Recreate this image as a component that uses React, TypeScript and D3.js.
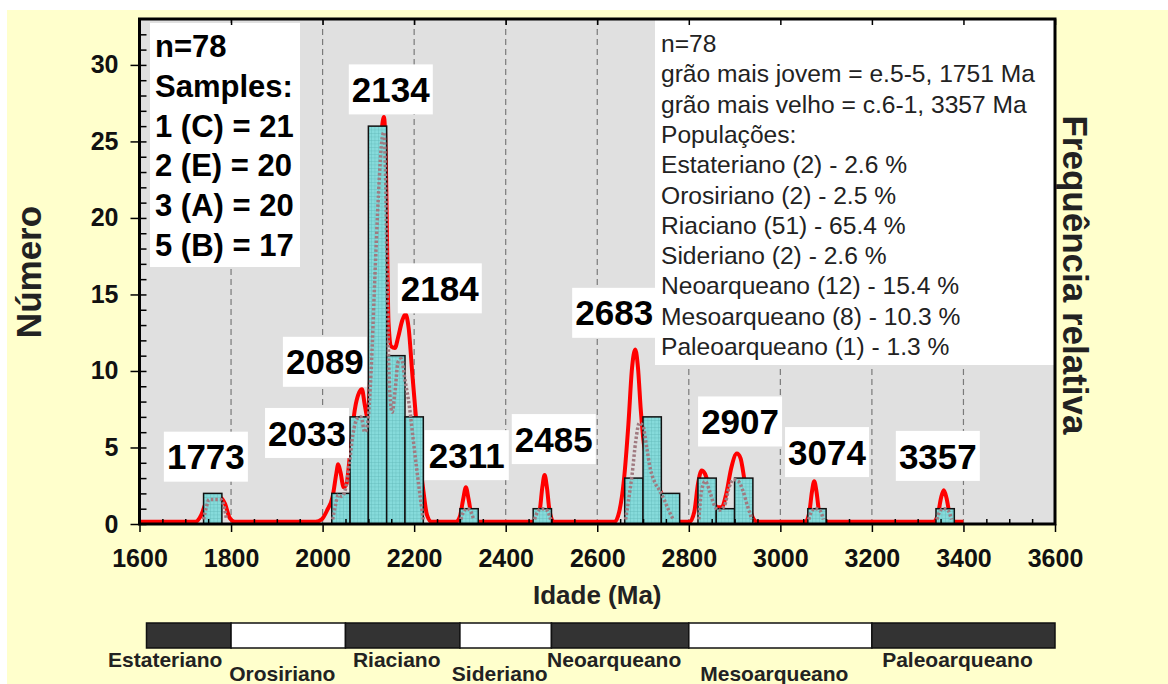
import React, { useRef, useEffect } from "react";
import * as d3 from "d3";

// histogram (bins of 40 Ma)
const binStarts = [1740, 2020, 2060, 2100, 2140, 2180, 2300, 2460, 2660, 2700, 2740, 2820, 2860, 2900, 3060, 3340];
const binCounts = [2, 2, 7, 26, 11, 7, 1, 1, 3, 7, 2, 3, 1, 3, 1, 1];
const binWidth = 40;

// relative probability curve (red)
const redAges = [
  1600, 1722, 1735, 1745, 1752, 1778, 1787, 1797, 1808,
  1985, 1998, 2010, 2022, 2030, 2034, 2039, 2046, 2052, 2060, 2070, 2080, 2086, 2092, 2098,
  2106, 2114, 2122, 2130, 2134, 2138, 2141, 2144, 2150, 2158, 2165, 2174, 2181, 2188, 2196,
  2205, 2213, 2220, 2228, 2238,
  2292, 2300, 2307, 2313, 2319, 2326, 2335,
  2465, 2474, 2480, 2485, 2490, 2496, 2505,
  2638, 2648, 2658, 2668, 2676, 2683, 2689, 2695, 2702, 2710, 2720, 2732, 2745, 2757, 2768,
  2802, 2812, 2820, 2828, 2835, 2844, 2853, 2862, 2872, 2882, 2893, 2905, 2913, 2922, 2932, 2942, 2950,
  3055, 3063, 3069, 3074, 3079, 3085, 3093,
  3335, 3344, 3351, 3357, 3363, 3370, 3378, 3400,
];
const redValues = [
  0.15, 0.15, 0.6, 1.4, 1.7, 1.7, 1.3, 0.4, 0.15,
  0.15, 0.3, 0.9, 1.8, 3.3, 3.9, 3.4, 2.4, 2.6, 4.6, 7.4, 8.6, 8.8, 7.8, 7.0,
  11, 17, 22.5, 26, 26.6, 24, 18, 13.2, 11.6, 11.5, 12.2, 13.3, 13.7, 12.8, 9.8,
  6.6, 4.0, 2.2, 0.6, 0.15,
  0.15, 0.5, 1.6, 2.4, 1.6, 0.5, 0.15,
  0.15, 0.8, 2.4, 3.2, 2.4, 0.8, 0.15,
  0.15, 0.8, 2.8, 6.5, 10.2, 11.4, 10.2, 7.5, 5.2, 4.0, 3.3, 2.6, 1.6, 0.7, 0.15,
  0.15, 0.8, 2.6, 3.5, 3.3, 2.5, 1.6, 1.1, 1.1, 2.0, 3.7, 4.6, 4.3, 2.8, 1.2, 0.3, 0.15,
  0.15, 0.7, 2.1, 2.8, 2.1, 0.7, 0.15,
  0.15, 0.6, 1.7, 2.2, 1.7, 0.6, 0.15, 0.15,
];

// dotted curve drawn over the bars (null = gap)
const dotAges = [
  1740, 1746, 1752, 1778, 1785, 1790, 1791,
  2022, 2028, 2034, 2042, 2050, 2058, 2066, 2076, 2084, 2092, 2098, 2106, 2114, 2122, 2130, 2134,
  2138, 2142, 2147, 2152, 2158, 2165, 2172, 2180, 2190, 2198, 2206, 2214, 2220, 2221,
  2302, 2310, 2316, 2322, 2330, 2331,
  2463, 2472, 2480, 2490, 2498, 2499,
  2662, 2668, 2676, 2684, 2692, 2700, 2708, 2716, 2726, 2736, 2746, 2756, 2766, 2767,
  2822, 2828, 2836, 2846, 2856, 2866, 2878, 2888, 2898, 2908, 2918, 2928, 2938, 2939,
  3062, 3070, 3078, 3086, 3094, 3095,
  3342, 3350, 3358, 3366, 3374,
];
const dotValues = [
  0.3, 1.1, 1.6, 1.6, 1.1, 0.3, null,
  0.3, 1.2, 1.9, 1.8, 2.3, 3.8, 5.8, 6.9, 7.0, 6.0, 6.5, 10, 16, 21.5, 25.2, 25.6,
  22, 14, 8.5, 7.3, 8.6, 10.6, 10.8, 9.4, 7.6, 5.5, 3.5, 1.6, 0.3, null,
  0.3, 0.9, 1.0, 0.9, 0.3, null,
  0.3, 0.9, 1.0, 0.9, 0.3, null,
  0.3, 1.5, 3.2, 5.4, 6.6, 6.4, 5.0, 3.6, 2.7, 2.2, 1.6, 0.9, 0.3, null,
  0.3, 2.2, 2.8, 2.1, 1.2, 0.9, 1.2, 2.4, 2.9, 2.8, 2.2, 1.2, 0.3, null,
  0.3, 0.9, 1.0, 0.9, 0.3, null,
  0.3, 0.9, 1.0, 0.9, 0.3,
];

// peak labels and where they sit (age, count units)
const peakLabels = ["1773", "2033", "2089", "2134", "2184", "2311", "2485", "2683", "2907", "3074", "3357"];
const peakLabelAge = [1745, 1966, 2005, 2149, 2256, 2315, 2505, 2637, 2912, 3102, 3344];
const peakLabelValue = [4.4, 5.95, 10.6, 28.4, 15.4, 4.5, 5.55, 13.8, 6.7, 4.7, 4.45];

const sampleLines = ["n=78", "Samples:", "1 (C) = 21", "2 (E) = 20", "3 (A) = 20", "5 (B) = 17"];
const summaryLines = [
  "n=78",
  "grão mais jovem = e.5-5, 1751 Ma",
  "grão mais velho = c.6-1, 3357 Ma",
  "Populações:",
  "Estateriano (2) - 2.6 %",
  "Orosiriano (2) - 2.5 %",
  "Riaciano (51) - 65.4 %",
  "Sideriano (2) - 2.6 %",
  "Neoarqueano (12) - 15.4 %",
  "Mesoarqueano (8) - 10.3 %",
  "Paleoarqueano (1) - 1.3 %",
];

// geological periods under the axis
const periodNames = ["Estateriano", "Orosiriano", "Riaciano", "Sideriano", "Neoarqueano", "Mesoarqueano", "Paleoarqueano"];
const periodBounds = [1600, 1800, 2050, 2300, 2500, 2800, 3200, 3600];

const xTicks = d3.range(1600, 3601, 200);
const yTicks = d3.range(0, 31, 5);

const FONT = "Arial, 'Liberation Sans', Helvetica, sans-serif";

const App = () => {
  const svgRef = useRef<SVGSVGElement>(null);

  useEffect(() => {
    const width = 1168;
    const height = 684;
    const left = 139.5, right = 1055, top = 19, bottom = 524;

    const svg = d3.select(svgRef.current).attr("width", width).attr("height", height);
    svg.selectAll("*").remove();

    const x = d3.scaleLinear().domain([1600, 3600]).range([left, right]);
    const y = d3.scaleLinear().domain([0, 33]).range([bottom, top]);

    const defs = svg.append("defs");
    const pat = defs
      .append("pattern")
      .attr("id", "cyanGrid")
      .attr("patternUnits", "userSpaceOnUse")
      .attr("width", 3.5)
      .attr("height", 3.5);
    pat.append("rect").attr("width", 3.5).attr("height", 3.5).attr("fill", "#86dbdb");
    pat.append("path").attr("d", "M0 0H3.5M0 0V3.5").attr("stroke", "#5eb8b8").attr("stroke-width", 0.7);

    // backgrounds
    svg.append("rect").attr("width", width).attr("height", height).attr("fill", "#ffffff");
    svg.append("rect").attr("x", 7).attr("y", 10).attr("width", width - 7).attr("height", height - 10).attr("fill", "#ffffcc");
    svg.append("rect").attr("x", left).attr("y", top).attr("width", right - left).attr("height", bottom - top).attr("fill", "#e0e0e0");

    // dashed verticals
    svg
      .append("g")
      .selectAll("line")
      .data(xTicks.slice(1, -1))
      .join("line")
      .attr("x1", (d) => x(d))
      .attr("x2", (d) => x(d))
      .attr("y1", top)
      .attr("y2", bottom)
      .attr("stroke", "#7a7a7a")
      .attr("stroke-width", 1.2)
      .attr("stroke-dasharray", "6,4");

    // white legend boxes
    svg.append("rect").attr("x", 150).attr("y", 23).attr("width", 150).attr("height", 244).attr("fill", "#fff");
    svg.append("rect").attr("x", 655).attr("y", top).attr("width", right - 655).attr("height", 346).attr("fill", "#fff");

    // red curve
    const red = redAges.map((a, i) => ({ a, v: redValues[i] }));
    const redLine = d3
      .line<{ a: number; v: number }>()
      .x((d) => x(d.a))
      .y((d) => y(d.v))
      .curve(d3.curveMonotoneX);
    svg
      .append("path")
      .datum(red)
      .attr("d", redLine)
      .attr("fill", "none")
      .attr("stroke", "#ff0000")
      .attr("stroke-width", 4)
      .attr("stroke-linejoin", "round");

    // bars
    svg
      .append("g")
      .selectAll("rect")
      .data(binStarts.map((s, i) => ({ s, c: binCounts[i] })))
      .join("rect")
      .attr("x", (d) => x(d.s))
      .attr("y", (d) => y(d.c))
      .attr("width", (d) => x(d.s + binWidth) - x(d.s))
      .attr("height", (d) => y(0) - y(d.c))
      .attr("fill", "url(#cyanGrid)")
      .attr("stroke", "#111")
      .attr("stroke-width", 1.5);

    // dotted curve
    const dots = dotAges.map((a, i) => ({ a, v: dotValues[i] as number | null }));
    const dotLine = d3
      .line<{ a: number; v: number | null }>()
      .defined((d) => d.v !== null)
      .x((d) => x(d.a))
      .y((d) => y(d.v as number))
      .curve(d3.curveMonotoneX);
    svg
      .append("path")
      .datum(dots)
      .attr("d", dotLine)
      .attr("fill", "none")
      .attr("stroke", "#a07a80")
      .attr("stroke-width", 3.5)
      .attr("stroke-dasharray", "2.5,2");

    // axes
    const xAxis = svg
      .append("g")
      .attr("transform", `translate(0,${bottom})`)
      .call(d3.axisBottom(x).tickValues(xTicks).tickSize(8).tickPadding(17).tickFormat(d3.format("d")));
    const xMinor = svg
      .append("g")
      .attr("transform", `translate(0,${bottom})`)
      .call(d3.axisBottom(x).tickValues(d3.range(1650, 3600, 50).filter((d) => d % 200 !== 0)).tickSize(-5).tickFormat(() => ""));
    const xTop = svg
      .append("g")
      .attr("transform", `translate(0,${top})`)
      .call(d3.axisBottom(x).tickValues(xTicks).tickSize(6).tickFormat(() => ""));
    const yAxis = svg
      .append("g")
      .attr("transform", `translate(${left},0)`)
      .call(d3.axisLeft(y).tickValues(yTicks).tickSize(9).tickPadding(12));
    const yMinor = svg
      .append("g")
      .attr("transform", `translate(${left},0)`)
      .call(d3.axisLeft(y).tickValues(d3.range(0, 33, 1)).tickSize(-7).tickFormat(() => ""));

    [xAxis, xMinor, xTop, yAxis, yMinor].forEach((g) => {
      g.select(".domain").remove();
      g.selectAll(".tick line").attr("stroke", "#000").attr("stroke-width", 1.5);
    });
    [xAxis, yAxis].forEach((g) => {
      g.selectAll(".tick text")
        .attr("fill", "#111")
        .style("font-family", FONT)
        .style("font-weight", "bold")
        .style("font-size", "25px");
    });

    // frame
    svg
      .append("rect")
      .attr("x", left)
      .attr("y", top)
      .attr("width", right - left)
      .attr("height", bottom - top)
      .attr("fill", "none")
      .attr("stroke", "#000")
      .attr("stroke-width", 3);

    // peak labels with white boxes
    const lab = svg
      .append("g")
      .selectAll("g")
      .data(peakLabels.map((t, i) => ({ t, a: peakLabelAge[i], v: peakLabelValue[i] })))
      .join("g")
      .attr("transform", (d) => `translate(${x(d.a)},${y(d.v)})`);
    lab
      .append("rect")
      .attr("x", -42)
      .attr("y", -25)
      .attr("width", 84)
      .attr("height", 50)
      .attr("fill", "#fff");
    lab
      .append("text")
      .attr("text-anchor", "middle")
      .attr("dy", "0.36em")
      .text((d) => d.t)
      .attr("fill", "#000")
      .style("font-family", FONT)
      .style("font-weight", "bold")
      .style("font-size", "35px");

    // sample legend
    svg
      .append("g")
      .selectAll("text")
      .data(sampleLines)
      .join("text")
      .attr("x", 155)
      .attr("y", (d, i) => 57 + i * 39.8)
      .text((d) => d)
      .attr("fill", "#000")
      .style("font-family", FONT)
      .style("font-weight", "bold")
      .style("font-size", "31px");

    // summary legend
    svg
      .append("g")
      .selectAll("text")
      .data(summaryLines)
      .join("text")
      .attr("x", 661)
      .attr("y", (d, i) => 52 + i * 30.3)
      .text((d) => d)
      .attr("fill", "#222")
      .style("font-family", FONT)
      .style("font-size", "24.6px");

    // axis titles
    svg
      .append("text")
      .attr("x", (left + right) / 2)
      .attr("y", 604)
      .attr("text-anchor", "middle")
      .text("Idade (Ma)")
      .attr("fill", "#222")
      .style("font-family", FONT)
      .style("font-weight", "bold")
      .style("font-size", "26px");
    svg
      .append("text")
      .attr("transform", "translate(41,272) rotate(-90)")
      .attr("text-anchor", "middle")
      .text("Número")
      .attr("fill", "#222")
      .style("font-family", FONT)
      .style("font-weight", "bold")
      .style("font-size", "35px");
    svg
      .append("text")
      .attr("transform", "translate(1063,275) rotate(90)")
      .attr("text-anchor", "middle")
      .text("Frequência relativa")
      .attr("fill", "#222")
      .style("font-family", FONT)
      .style("font-weight", "bold")
      .style("font-size", "35px");

    // period bar
    const periods = periodNames.map((n, i) => ({ n, a0: periodBounds[i], a1: periodBounds[i + 1], i }));
    const pg = svg.append("g");
    pg.selectAll("rect")
      .data(periods)
      .join("rect")
      .attr("x", (d) => x(d.a0) + (d.i === 0 ? 7 : 0))
      .attr("y", 623)
      .attr("width", (d) => x(d.a1) - x(d.a0) - (d.i === 0 ? 7 : 0))
      .attr("height", 25)
      .attr("fill", (d) => (d.i % 2 === 0 ? "#333333" : "#ffffff"))
      .attr("stroke", "#111")
      .attr("stroke-width", 1.5);
    pg.selectAll("text")
      .data(periods)
      .join("text")
      .attr("x", (d) => (x(d.a0) + x(d.a1)) / 2 - (d.i === 0 ? 20 : 6))
      .attr("y", (d) => (d.i % 2 === 0 ? 667 : 681))
      .attr("text-anchor", "middle")
      .text((d) => d.n)
      .attr("fill", "#222")
      .style("font-family", FONT)
      .style("font-weight", "bold")
      .style("font-size", "21px");
  }, []);

  return <svg ref={svgRef} style={{ position: "absolute", left: 0, top: 0, display: "block" }}></svg>;
};

export default App;
